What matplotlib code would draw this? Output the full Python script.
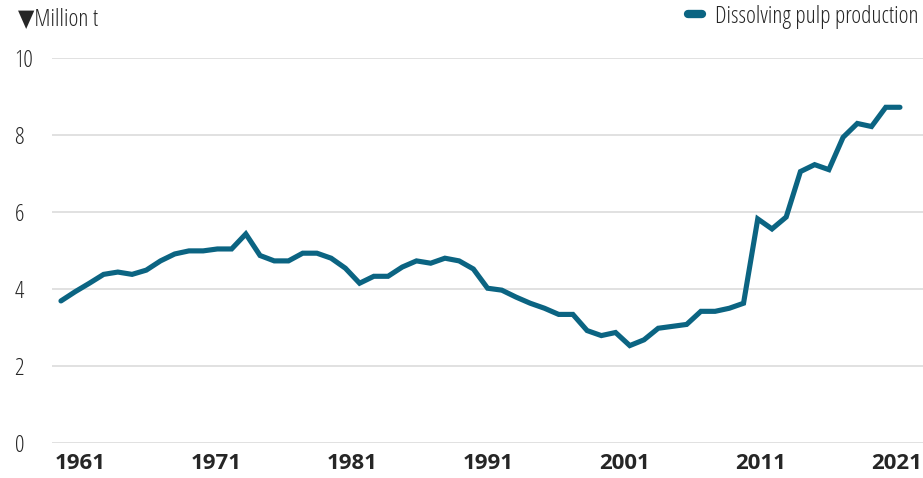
import matplotlib
matplotlib.use("Agg")
import matplotlib.pyplot as plt
from matplotlib.lines import Line2D
import numpy as np

plt.rcParams['font.family'] = ['Open Sans', 'DejaVu Sans']
plt.rcParams['font.stretch'] = 'condensed'
plt.rcParams['font.weight'] = 'light'

# dissolving pulp production, million tonnes
years = list(range(1961, 2021))
production = [3.69, 3.93, 4.15, 4.38, 4.44, 4.38, 4.49, 4.73, 4.91, 4.99,
              4.99, 5.04, 5.04, 5.43, 4.87, 4.73, 4.73, 4.93, 4.93, 4.80,
              4.54, 4.15, 4.33, 4.33, 4.57, 4.73, 4.67, 4.80, 4.73, 4.52,
              4.02, 3.97, 3.79, 3.63, 3.50, 3.34, 3.34, 2.92, 2.79, 2.87,
              2.53, 2.68, 2.98, 3.03, 3.08, 3.42, 3.42, 3.50, 3.63, 5.82,
              5.56, 5.87, 7.05, 7.23, 7.10, 7.94, 8.30, 8.22, 8.72, 8.72]
year_labels = ['1961', '1971', '1981', '1991', '2001', '2011', '2021']
y_ticks = [0, 2, 4, 6, 8, 10]

line_color = '#0b6482'
text_color = '#262626'

fig = plt.figure(figsize=(9.23, 4.78), dpi=100)
ax = fig.add_axes([52 / 923, 35 / 478, 1 - 52 / 923, 385 / 478])

ax.plot(years, production, color=line_color, lw=3.7,
        solid_capstyle='round', solid_joinstyle='miter', zorder=3)

ax.set_xlim(1960.37, 2021.62)
ax.set_ylim(0, 10)
ax.set_yticks(y_ticks)
ax.set_yticklabels([str(v) for v in y_ticks])
ax.grid(axis='y', color='#d9d9d9', lw=1.1)
ax.set_axisbelow(True)

# labels sit on an evenly spaced decade grid along the bottom
ax.set_xticks(np.linspace(1962.34, 2019.79, len(year_labels)))
ax.set_xticklabels(year_labels, fontweight='bold', fontsize=16)

ax.tick_params(axis='both', length=0, colors=text_color)
ax.tick_params(axis='x', pad=7)
ax.tick_params(axis='y', pad=27, labelsize=17)
for lab in ax.get_yticklabels():
    lab.set_horizontalalignment('left')

for s in ax.spines.values():
    s.set_visible(False)

fig.text(18 / 923, 1 - 19 / 478, '\u25BCMillion t', fontsize=17,
         color=text_color, va='center', ha='left')

handle = Line2D([], [], color=line_color, lw=6, solid_capstyle='round')
fig.legend([handle], ['Dissolving pulp production'], loc='upper right',
           bbox_to_anchor=(1.0, 1.0), frameon=False, fontsize=17,
           handlelength=0.6, handletextpad=0.55, borderpad=0.1,
           borderaxespad=0.1, labelcolor=text_color)

fig.savefig('out.png', dpi=100)
